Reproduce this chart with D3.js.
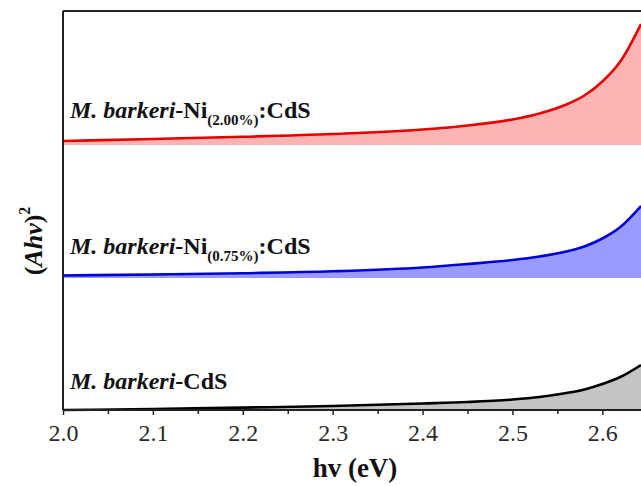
<!DOCTYPE html>
<html>
<head>
<meta charset="utf-8">
<script src="https://cdn.jsdelivr.net/npm/d3@7"></script>
<style>
  html, body { margin: 0; padding: 0; background: #fff; }
  svg { display: block; }
</style>
</head>
<body>
<svg id="chart" width="641" height="486"></svg>
<script>
// ---- data ----
const energy = [2.00, 2.10, 2.20, 2.30, 2.40, 2.45, 2.50, 2.53, 2.56, 2.58, 2.60, 2.62, 2.643];
// (Ahv)^2 in arbitrary units, already including the vertical stacking offset
const ni200 = [67.42, 67.92, 68.47, 69.17, 70.30, 71.30, 72.81, 74.31, 76.57, 78.82, 82.33, 87.34, 96.74];
const ni075 = [33.71, 33.96, 34.29, 34.76, 35.71, 36.59, 37.59, 38.47, 39.72, 40.98, 42.98, 45.86, 51.13];
const pure  = [0.00, 0.25, 0.60, 1.00, 1.63, 2.01, 2.63, 3.26, 4.26, 5.14, 6.52, 8.27, 11.28];
const baselines = [66.4, 33.1, 0];
const seriesNames = ["M. barkeri-Ni(2.00%):CdS", "M. barkeri-Ni(0.75%):CdS", "M. barkeri-CdS"];
const labelParts = [
  ["M. barkeri", "-Ni", "(2.00%)", ":CdS"],
  ["M. barkeri", "-Ni", "(0.75%)", ":CdS"],
  ["M. barkeri", "-CdS", "", ""]
];
const xTicks = [2.0, 2.1, 2.2, 2.3, 2.4, 2.5, 2.6];
const xMinorTicks = [2.05, 2.15, 2.25, 2.35, 2.45, 2.55];
const lineColors = ["#e60000", "#0000d8", "#000000"];
const fillColors = ["#ffb4b4", "#9a9aff", "#c4c4c4"];

// ---- layout ----
const FONT = "'Liberation Serif', 'Times New Roman', serif";
const svg = d3.select("#chart");
const mLeft = 63, mRight = 641, mTop = 11, mBottom = 410;

const x = d3.scaleLinear().domain([2.0, 2.643]).range([mLeft, mRight]);
const y = d3.scaleLinear().domain([0, 100]).range([mBottom, mTop]);

const allSeries = [ni200, ni075, pure];

allSeries.forEach((vals, i) => {
  const pts = energy.map((e, j) => ({ e, v: vals[j] }));
  const area = d3.area()
    .x(d => x(d.e))
    .y0(y(baselines[i]))
    .y1(d => y(d.v))
    .curve(d3.curveMonotoneX);
  const line = d3.line()
    .x(d => x(d.e))
    .y(d => y(d.v))
    .curve(d3.curveMonotoneX);
  svg.append("path").attr("d", area(pts)).attr("fill", fillColors[i]);
  svg.append("path").attr("d", line(pts))
    .attr("fill", "none").attr("stroke", lineColors[i]).attr("stroke-width", 2.6);
});

// frame: top line and left axis line
svg.append("line").attr("x1", mLeft).attr("x2", mRight).attr("y1", mTop).attr("y2", mTop)
  .attr("stroke", "#222").attr("stroke-width", 2);
svg.append("line").attr("x1", mLeft).attr("x2", mLeft).attr("y1", mTop).attr("y2", mBottom)
  .attr("stroke", "#222").attr("stroke-width", 2);

// x axis
const xAxis = d3.axisBottom(x).tickValues(xTicks).tickFormat(d3.format(".1f"))
  .tickSize(5).tickPadding(9);
const gx = svg.append("g").attr("transform", `translate(0,${mBottom})`).call(xAxis)
  .attr("font-family", FONT).attr("font-size", 24);
gx.select(".domain").attr("stroke", "#222").attr("stroke-width", 2)
  .attr("d", `M${mLeft},0H${mRight}`);
gx.selectAll(".tick line").attr("stroke", "#222").attr("stroke-width", 1.5);
gx.selectAll(".tick text").attr("fill", "#2a2a2a");
const xMinor = d3.axisBottom(x).tickValues(xMinorTicks).tickSize(4).tickFormat("");
const gm = svg.append("g").attr("transform", `translate(0,${mBottom})`).call(xMinor);
gm.select(".domain").remove();
gm.selectAll(".tick line").attr("stroke", "#222").attr("stroke-width", 1.5);

// x title
svg.append("text").attr("x", 355).attr("y", 477).attr("text-anchor", "middle")
  .attr("font-family", FONT)
  .attr("font-size", 27).attr("font-weight", "bold").attr("fill", "#111")
  .text("hv (eV)");

// y title
const yt = svg.append("text")
  .attr("transform", "translate(42,241) rotate(-90)")
  .attr("font-family", FONT)
  .attr("text-anchor", "middle").attr("font-size", 26)
  .attr("font-weight", "bold").attr("fill", "#111");
yt.append("tspan").text("(");
yt.append("tspan").attr("font-style", "italic").text("Ahv");
yt.append("tspan").text(")");
yt.append("tspan").attr("font-size", 16).attr("dy", -12).text("2");

// series labels
const labelY = [118, 254, 389];
labelParts.forEach((parts, i) => {
  const t = svg.append("text").attr("x", 70).attr("y", labelY[i])
    .attr("font-family", FONT)
    .attr("font-size", 24).attr("font-weight", "bold").attr("fill", "#111");
  t.append("tspan").attr("font-style", "italic").text(parts[0]);
  t.append("tspan").text(parts[1]);
  if (parts[2]) {
    t.append("tspan").attr("font-size", 15).attr("dy", 7).text(parts[2]);
    t.append("tspan").attr("dy", -7).text(parts[3]);
  }
});
</script>
</body>
</html>
